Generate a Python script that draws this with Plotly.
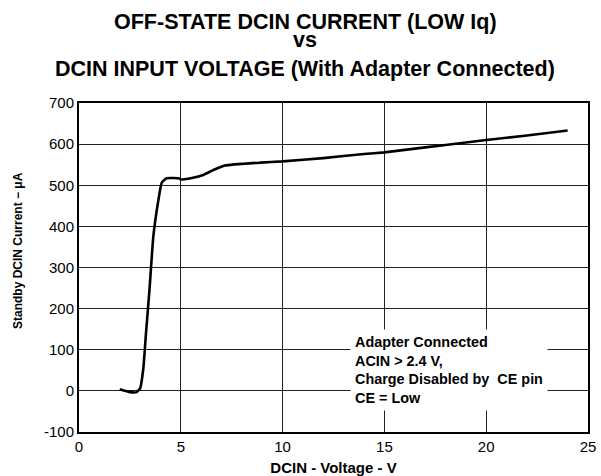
import plotly.graph_objects as go

# DCIN input voltage (V) and standby DCIN current (uA)
voltage = [2.0, 2.5, 2.83, 3.0, 3.16, 3.29, 3.46, 3.65, 3.9, 4.06, 4.3, 4.88, 5.04,
           5.6, 6.1, 6.6, 7.17, 8.9, 10, 12, 14, 15, 16, 18, 20, 22, 24]
current = [4, -3, -3, 6, 55, 140, 245, 375, 464, 506, 517, 517, 514,
           518, 525, 537, 548, 555, 558, 566, 576, 580, 586, 598, 610, 621, 633]

x_ticks = [0, 5, 10, 15, 20, 25]
y_ticks = [-100, 0, 100, 200, 300, 400, 500, 600, 700]
y_tick_labels = ["-100", "0", "100", "200", "300", "400", "500", "600", "700"]

title_lines = ["OFF-STATE DCIN CURRENT (LOW Iq)", "vs",
               "DCIN INPUT VOLTAGE (With Adapter Connected)"]

font_family = "Liberation Sans, Arial, sans-serif"

# plot area in pixels: l=79, r=588, t=103, b=432
def px_x(px):
    return (px - 79) / 509

def px_y(py):
    return (432 - py) / 329

fig = go.Figure()

fig.add_trace(go.Scatter(
    x=voltage, y=current, mode='lines', showlegend=False,
    line=dict(color='black', width=2.6, shape='spline', smoothing=0.4)
))

fig.add_annotation(
    x=13.31, y=50, xref='x', yref='y', xanchor='left', yanchor='middle',
    text="<b>Adapter Connected<br>ACIN > 2.4 V,<br>Charge Disabled by&nbsp; CE pin<br>CE = Low</b>",
    align='left', showarrow=False, bgcolor='white', borderpad=4,
    font=dict(family=font_family, size=14.4, color='black')
)

# title lines, placed by hand above the plot area
for line, py in zip(title_lines, [22.5, 39.5, 68.5]):
    fig.add_annotation(
        x=px_x(305), y=px_y(py), xref='paper', yref='paper',
        xanchor='center', yanchor='middle',
        text="<b>" + line + "</b>", showarrow=False,
        font=dict(family=font_family, size=21.5, color='black')
    )

# y axis title sits a bit above the plot centre
fig.add_annotation(
    x=px_x(18), y=px_y(251), xref='paper', yref='paper',
    xanchor='center', yanchor='middle', showarrow=False, textangle=-90,
    text="<b>Standby DCIN Current − μA</b>",
    font=dict(family=font_family, size=12, color='black')
)

fig.update_layout(
    width=601, height=476,
    paper_bgcolor='white', plot_bgcolor='white',
    margin=dict(l=79, r=13, t=103, b=44),
    font=dict(family=font_family, color='black'),
    xaxis=dict(
        range=[0, 25], tickvals=x_ticks, showgrid=True, gridcolor='#222', gridwidth=1,
        zeroline=False, showline=True, linecolor='black', linewidth=2, mirror=True,
        ticks='', tickfont=dict(size=15), automargin=False,
        title=dict(text="<b>DCIN - Voltage - V</b>", font=dict(size=15), standoff=10)
    ),
    yaxis=dict(
        range=[-100, 700], tickvals=y_ticks, ticktext=y_tick_labels,
        showgrid=True, gridcolor='#222', gridwidth=1,
        zeroline=False, showline=True, linecolor='black', linewidth=2, mirror=True,
        ticks='', tickfont=dict(size=15), automargin=False,
    ),
)

# drop the page's default body margin so the figure sits at the window corner
fig.write_html("out.html", config={'displayModeBar': False},
               post_script="document.body.style.margin='0';")
